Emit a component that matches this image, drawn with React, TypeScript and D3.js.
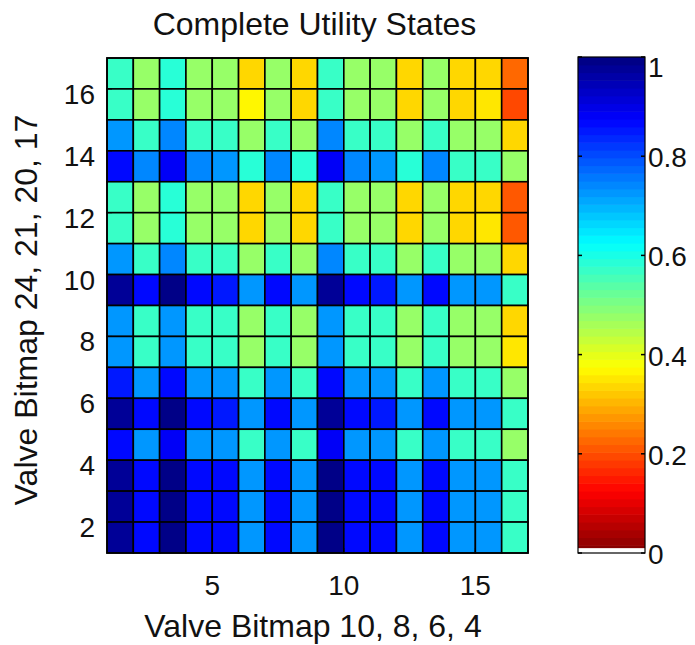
import React from "react";
import * as d3 from "d3";

// Utility matrix, rows listed from top (y = 16) down to bottom (y = 1); columns x = 1..16
const rowsTopToBottom: number[][] = [
  [0.57, 0.47, 0.58, 0.47, 0.48, 0.34, 0.47, 0.33, 0.57, 0.47, 0.48, 0.34, 0.47, 0.33, 0.34, 0.22],
  [0.57, 0.47, 0.58, 0.47, 0.47, 0.36, 0.47, 0.34, 0.57, 0.47, 0.47, 0.34, 0.47, 0.33, 0.35, 0.2],
  [0.73, 0.57, 0.74, 0.57, 0.57, 0.47, 0.57, 0.47, 0.74, 0.57, 0.57, 0.47, 0.57, 0.47, 0.47, 0.34],
  [0.86, 0.74, 0.88, 0.74, 0.73, 0.58, 0.74, 0.58, 0.88, 0.74, 0.73, 0.58, 0.74, 0.57, 0.57, 0.47],
  [0.57, 0.47, 0.58, 0.47, 0.47, 0.34, 0.47, 0.34, 0.57, 0.47, 0.47, 0.34, 0.47, 0.33, 0.34, 0.21],
  [0.57, 0.47, 0.58, 0.47, 0.47, 0.34, 0.47, 0.34, 0.57, 0.47, 0.47, 0.34, 0.47, 0.33, 0.35, 0.21],
  [0.73, 0.57, 0.74, 0.57, 0.57, 0.47, 0.57, 0.47, 0.74, 0.57, 0.57, 0.47, 0.57, 0.47, 0.47, 0.34],
  [0.97, 0.86, 0.99, 0.86, 0.85, 0.73, 0.86, 0.73, 0.98, 0.86, 0.85, 0.73, 0.86, 0.73, 0.72, 0.57],
  [0.72, 0.57, 0.73, 0.57, 0.57, 0.48, 0.57, 0.47, 0.73, 0.57, 0.57, 0.47, 0.57, 0.47, 0.47, 0.34],
  [0.72, 0.57, 0.73, 0.57, 0.57, 0.48, 0.57, 0.47, 0.73, 0.57, 0.57, 0.47, 0.57, 0.47, 0.47, 0.35],
  [0.85, 0.73, 0.87, 0.73, 0.73, 0.57, 0.73, 0.57, 0.87, 0.73, 0.72, 0.57, 0.73, 0.57, 0.57, 0.47],
  [0.97, 0.86, 0.99, 0.86, 0.85, 0.73, 0.86, 0.73, 0.98, 0.86, 0.85, 0.73, 0.86, 0.73, 0.72, 0.57],
  [0.86, 0.73, 0.88, 0.73, 0.73, 0.57, 0.73, 0.57, 0.88, 0.73, 0.72, 0.57, 0.73, 0.57, 0.57, 0.47],
  [0.97, 0.86, 0.99, 0.86, 0.86, 0.73, 0.86, 0.73, 0.99, 0.86, 0.86, 0.73, 0.86, 0.73, 0.72, 0.57],
  [0.97, 0.86, 0.99, 0.86, 0.86, 0.73, 0.86, 0.73, 0.99, 0.86, 0.86, 0.73, 0.86, 0.73, 0.72, 0.57],
  [0.97, 0.87, 0.99, 0.87, 0.86, 0.73, 0.87, 0.73, 0.99, 0.87, 0.86, 0.73, 0.86, 0.73, 0.72, 0.57],
];

const xTicks = [5, 10, 15];
const yTicks = [2, 4, 6, 8, 10, 12, 14, 16];
const cbTicks = [0, 0.2, 0.4, 0.6, 0.8, 1];
const cbTickLabels = ["0", "0.2", "0.4", "0.6", "0.8", "1"];

const title = "Complete Utility States";
const xLabel = "Valve Bitmap 10, 8, 6, 4";
const yLabel = "Valve Bitmap 24, 21, 20, 17";

const NLEVELS = 64;

function clamp01(v: number) {
  return Math.max(0, Math.min(1, v));
}
function jet(t: number): string {
  const r = clamp01(1.5 - Math.abs(4 * t - 3));
  const g = clamp01(1.5 - Math.abs(4 * t - 2));
  const b = clamp01(1.5 - Math.abs(4 * t - 1));
  return d3.rgb(r * 255, g * 255, b * 255).formatHex();
}
// flipped jet with 64 discrete levels: value 1 -> dark blue, 0 -> dark red
function levelColor(i: number): string {
  return jet(1 - (i + 0.5) / NLEVELS);
}
function valueColor(v: number): string {
  const i = Math.min(NLEVELS - 1, Math.max(0, Math.floor(v * NLEVELS)));
  return levelColor(i);
}

const FONT = "'Liberation Sans', Arial, sans-serif";

export default function App() {
  const nRows = rowsTopToBottom.length;
  const nCols = rowsTopToBottom[0].length;
  const x = d3.scaleLinear().domain([1, nCols + 1]).range([107, 528]);
  const y = d3.scaleLinear().domain([1, nRows + 1]).range([553, 58]);
  const cb = d3.scaleLinear().domain([0, 1]).range([553, 57]);
  const cbX0 = 578;
  const cbX1 = 645;

  const cells: React.ReactNode[] = [];
  rowsTopToBottom.forEach((row, ri) => {
    const yi = nRows - ri; // y index of this row (bottom edge)
    row.forEach((v, ci) => {
      const xi = ci + 1;
      cells.push(
        <rect
          key={`c${ri}-${ci}`}
          x={x(xi)}
          y={y(yi + 1)}
          width={x(xi + 1) - x(xi)}
          height={y(yi) - y(yi + 1)}
          fill={valueColor(v)}
          stroke="#000"
          strokeWidth={1.6}
        />
      );
    });
  });

  const bands: React.ReactNode[] = [];
  for (let i = 0; i < NLEVELS; i++) {
    const v0 = Math.max(0.011, i / NLEVELS);
    const v1 = (i + 1) / NLEVELS;
    bands.push(
      <rect
        key={`b${i}`}
        x={cbX0}
        y={cb(v1)}
        width={cbX1 - cbX0}
        height={cb(v0) - cb(v1) + 0.6}
        fill={levelColor(i)}
      />
    );
  }

  return (
    <svg
      width={695}
      height={645}
      style={{ position: "absolute", left: 0, top: 0, background: "#fff" }}
      fontFamily={FONT}
    >
      <rect x={0} y={0} width={695} height={645} fill="#fff" />
      <text x={314.5} y={35} fontSize={32} textAnchor="middle" fill="#111">
        {title}
      </text>

      {cells}
      <rect
        x={x(1)}
        y={y(nRows + 1)}
        width={x(nCols + 1) - x(1)}
        height={y(1) - y(nRows + 1)}
        fill="none"
        stroke="#000"
        strokeWidth={1.6}
      />

      {xTicks.map((t) => (
        <g key={`xt${t}`}>
          <line x1={x(t)} x2={x(t)} y1={y(1)} y2={y(1) - 5} stroke="#000" />
          <text x={x(t)} y={595} fontSize={28} textAnchor="middle" fill="#111">
            {t}
          </text>
        </g>
      ))}
      {yTicks.map((t) => (
        <g key={`yt${t}`}>
          <line x1={x(1)} x2={x(1) + 5} y1={y(t)} y2={y(t)} stroke="#000" />
          <text x={95} y={y(t) + 15} fontSize={28} textAnchor="end" fill="#111">
            {t}
          </text>
        </g>
      ))}

      <text x={313} y={637} fontSize={32} textAnchor="middle" fill="#111">
        {xLabel}
      </text>
      <text
        transform={`translate(37,${310}) rotate(-90)`}
        fontSize={32}
        textAnchor="middle"
        fill="#111"
      >
        {yLabel}
      </text>

      {/* colorbar */}
      {bands}
      <rect
        x={cbX0}
        y={cb(1)}
        width={cbX1 - cbX0}
        height={cb(0) - cb(1)}
        fill="none"
        stroke="#000"
        strokeWidth={1.2}
      />
      {cbTicks.map((t, i) => (
        <g key={`cbt${t}`}>
          <line x1={cbX0} x2={cbX0 + 4} y1={cb(t)} y2={cb(t)} stroke="#000" strokeWidth={1.5} />
          <line x1={cbX1 - 4} x2={cbX1} y1={cb(t)} y2={cb(t)} stroke="#000" strokeWidth={1.5} />
          <text
            x={648}
            y={Math.min(570, Math.max(77, cb(t) + 11))}
            fontSize={28}
            textAnchor="start"
            fill="#111"
          >
            {cbTickLabels[i]}
          </text>
        </g>
      ))}
    </svg>
  );
}
